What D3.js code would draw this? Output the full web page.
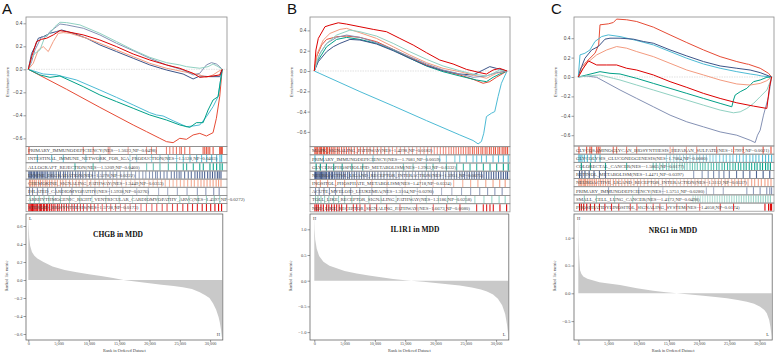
<!DOCTYPE html>
<html>
<head>
<meta charset="utf-8">
<script src="https://cdn.jsdelivr.net/npm/d3@7"></script>
<style>
body{margin:0;background:#fff}
svg{display:block}
</style>
</head>
<body>
<svg id="fig" width="777" height="354"></svg>
<script>
// ranks are in thousands of genes (0 .. 32)
const rankTicks = [0, 5, 10, 15, 20, 25, 30];
const esTicks = [-0.6, -0.4, -0.2, 0, 0.2, 0.4];
const npg = ["#E64B35", "#4DBBD5", "#00A087", "#3C5488", "#F39B7F", "#8491B4", "#91D1C2", "#DC0000"];

// ---------- panel A : CHGB ----------
const aSets = [
  "PRIMARY_IMMUNODEFICIENCY(NES=-1.5023,NP=0.0498)",
  "INTESTINAL_IMMUNE_NETWORK_FOR_IGA_PRODUCTION(NES=-1.5128,NP=0.0403)",
  "ALLOGRAFT_REJECTION(NES=-1.5209,NP=0.0460)",
  "LYSINE_DEGRADATION(NES=1.5278,NP=0.0222)",
  "CHEMOKINE_SIGNALING_PATHWAY(NES=1.3449,NP=0.0353)",
  "DILATED_CARDIOMYOPATHY(NES=1.5938,NP=0.0276)",
  "ARRHYTHMOGENIC_RIGHT_VENTRICULAR_CARDIOMYOPATHY_ARVC(NES=1.4597,NP=0.0272)",
  "STEROID_BIOSYNTHESIS(NES=1.5728,NP=0.0173)"
];
const aCurves = [
  [[0,0],[6.32,-0.174],[11.81,-0.331],[17.31,-0.484],[19.51,-0.542],[21.7,-0.6],[22.8,-0.629],[23.9,-0.638],[25,-0.6],[26.1,-0.609],[27.2,-0.571],[28.3,-0.557],[29.4,-0.58],[30.49,-0.551],[31.04,-0.426],[31.59,-0.238],[32,0]],
  [[0,0],[2.47,-0.041],[4.67,-0.049],[7.97,-0.093],[11.81,-0.18],[14.56,-0.244],[17.31,-0.31],[20.05,-0.377],[21.15,-0.397],[22.25,-0.406],[23.9,-0.447],[26.1,-0.499],[27.2,-0.493],[28.3,-0.484],[29.4,-0.412],[30.49,-0.325],[31.32,-0.238],[32,0]],
  [[0,0],[1.92,-0.049],[3.57,-0.07],[5.22,-0.058],[9.07,-0.151],[11.81,-0.223],[14.56,-0.281],[17.31,-0.339],[20.05,-0.397],[22.8,-0.441],[25,-0.484],[26.65,-0.505],[27.75,-0.464],[28.85,-0.464],[29.67,-0.354],[30.49,-0.267],[31.32,-0.238],[32,0]],
  [[0,0],[0.55,0.139],[1.1,0.197],[1.65,0.27],[2.47,0.284],[3.57,0.313],[4.67,0.328],[5.49,0.342],[7.42,0.313],[9.62,0.27],[11.81,0.212],[14.56,0.154],[17.31,0.096],[20.05,0.038],[22.8,-0.006],[25.55,-0.041],[27.2,-0.084],[28.3,-0.058],[29.95,-0.064],[31.59,-0.064],[32,0]],
  [[0,0],[0.82,0.052],[1.65,0.168],[2.47,0.197],[3.3,0.154],[4.12,0.241],[4.95,0.313],[5.77,0.319],[6.87,0.313],[9.62,0.27],[11.81,0.226],[14.56,0.168],[17.31,0.11],[20.05,0.052],[22.8,0.009],[25.55,-0.02],[28.3,-0.049],[29.4,-0.07],[30.49,-0.049],[31.32,-0.02],[32,0]],
  [[0,0],[0.55,0.067],[1.1,0.168],[2.2,0.284],[3.02,0.284],[3.57,0.328],[4.67,0.371],[5.22,0.394],[6.32,0.386],[9.07,0.357],[11.81,0.299],[14.56,0.226],[17.31,0.162],[20.05,0.096],[22.8,0.038],[25.55,-0.006],[27.2,-0.049],[28.3,-0.035],[29.4,0.038],[30.22,0.058],[31.04,0.046],[31.59,0.023],[32,0]],
  [[0,0],[0.55,0.096],[1.1,0.139],[1.92,0.168],[2.75,0.284],[3.57,0.313],[4.4,0.371],[5.22,0.409],[6.32,0.406],[8.52,0.386],[11.81,0.313],[14.56,0.241],[17.31,0.168],[20.05,0.104],[22.8,0.058],[25,0.038],[26.1,0.023],[28.3,0.009],[29.67,0.023],[30.49,0.046],[31.32,0.023],[32,0]],
  [[0,0],[0.55,0.11],[1.37,0.241],[2.2,0.261],[3.02,0.27],[4.12,0.299],[5.22,0.336],[6.32,0.328],[9.07,0.299],[11.81,0.255],[14.56,0.197],[17.31,0.133],[20.05,0.081],[22.8,0.038],[25,0.009],[27.2,-0.035],[28.3,-0.07],[29.4,-0.064],[30.49,-0.058],[31.59,-0.049],[32,0]]
];
const aHits = [
  [0.11,9.07,10.71,13.19,13.46,16.48,19.51,20.33,21.15,22.8,23.35,23.9,24.45,25,25.27,25.82,26.65,28.85,29.12,29.4,29.67,29.95,30.5,31.59,31.76,31.92,32],
  [1.5,3.86,5.78,9.5,11.83,16.78,17.88,20.35,21.73,23.11,24.48,25.58,26.68,27.78,28.6,29.43,30.26,31.08,31.63,31.91],
  [7.7,10.7,16.78,19.53,20.63,21.73,23.11,24.48,25.58,26.13,27.23,28.3,28.88,29.98,30.53,31.08,31.63,32],
  [0.1,0.3,0.5,0.8,1,1.3,1.5,1.8,2.1,2.3,2.6,2.9,3.2,3.6,3.9,4.2,4.6,5,5.3,5.8,6.1,6.5,6.9,7.3,7.8,8.2,8.6,9,9.5,10.1,10.6,11,11.6,12.2,12.8,13.5,14,14.6,15.2,15.8,16.4,17,17.7,18.3,18.9,19.4,20,20.5,21,21.3,21.8,22.4,22.9,23.6,24.1,24.5,24.9,25.2,25.8,26.4,26.9,27.5,27.9,28.3,28.7,29.1,29.6,30,30.4,30.8,31.2,31.5,31.8],
  [0.2,0.4,0.7,1,1.3,1.7,2,2.4,2.8,3.1,3.5,3.9,4.4,4.8,5.3,5.7,6.2,6.8,7.3,7.9,8.4,9,9.7,10.3,11,11.7,12.4,13.1,13.9,14.6,15.4,16.1,16.9,17.6,18.4,19.1,19.9,20.6,21.3,22,22.6,23.3,23.9,24.5,25.1,25.7,26.3,26.9,27.4,28,28.5,29,29.5,30,30.5,31,31.4,31.8],
  [0.2,0.7,1.5,2.4,3.2,4.5,5.5,7.2,8.9,11,13.4,15.6,17.9,19.8,21.5,23,24.6,26.2,27.9,29.3,30.6,31.5],
  [0.3,1,1.8,2.6,3.4,4.1,5.3,6.8,8.5,10.5,12.8,15,17.2,19.6,21.4,23.2,25,26.5,28,29.4,30.7,31.6],
  [0.1,0.3,0.5,0.7,0.9,1.1,1.3,1.5,1.8,2,2.2,2.5,2.7,3,3.2,3.5,3.8,4.1,4.4,4.8,5.1,5.5,5.9,6.3,6.7,7.2,7.6,8.1,8.6,9.1,9.7,10.3,10.9,11.5,12.2,12.9,13.6,14.4,15.2,16,16.8,17.7,18.6,19.5,20.4,21.2,22.1,22.9,23.8,24.6,25.5,26.3,27.1,27.9,28.7,29.4,30.1,30.8,31.4,31.9]
];
const aMetric = [[0,0.73],[0.05,0.6],[0.15,0.47],[0.3,0.38],[0.6,0.31],[1,0.27],[1.5,0.24],[2.5,0.2],[4,0.15],[6,0.11],[8,0.085],[10,0.065],[12,0.045],[14,0.022],[15.7,0],[18,-0.02],[20,-0.036],[22,-0.052],[24,-0.068],[25.5,-0.08],[27,-0.1],[28.3,-0.135],[29.2,-0.17],[29.9,-0.2],[30.5,-0.26],[31,-0.33],[31.4,-0.41],[31.6,-0.47],[31.8,-0.55],[31.95,-0.64],[32,-0.64]];
const aMetricTicks = [-0.6, -0.4, -0.2, 0, 0.2, 0.4, 0.6];

// ---------- panel B : IL1R1 ----------
const bSets = [
  "MAPK_SIGNALING_PATHWAY(NES=1.4298,NP=0.0182)",
  "PRIMARY_IMMUNODEFICIENCY(NES=-1.7081,NP=0.0059)",
  "GLYCEROPHOSPHOLIPID_METABOLISM(NES=1.2963,NP=0.0332)",
  "NEUROACTIVE_LIGAND_RECEPTOR_INTERACTION(NES=1.3951,NP=0.0075)",
  "INOSITOL_PHOSPHATE_METABOLISM(NES=1.4718,NP=0.0324)",
  "ACUTE_MYELOID_LEUKEMIA(NES=1.3104,NP=0.0290)",
  "TOLL_LIKE_RECEPTOR_SIGNALING_PATHWAY(NES=1.3186,NP=0.0258)",
  "NOD_LIKE_RECEPTOR_SIGNALING_PATHWAY(NES=1.6673,NP=0.0080)"
];
const bCurves = [
  [[0,0],[0.38,0.141],[1.21,0.256],[2.03,0.311],[3.68,0.338],[5.33,0.344],[7.53,0.331],[10.27,0.289],[13.02,0.213],[15.77,0.134],[18.52,0.059],[21.26,0.003],[24.01,-0.039],[26.21,-0.082],[27.86,-0.121],[28.96,-0.105],[30.05,-0.062],[31.81,0]],
  [[0,0],[7.53,-0.203],[13.02,-0.344],[18.52,-0.489],[24.01,-0.63],[26.21,-0.685],[27.03,-0.718],[27.58,-0.695],[27.97,-0.613],[28.41,-0.449],[29.23,-0.416],[29.78,-0.4],[30.33,-0.252],[30.88,-0.121],[31.43,-0.049],[31.81,0]],
  [[0,0],[0.66,0.108],[2.03,0.239],[3.68,0.311],[5.33,0.331],[7.53,0.311],[10.27,0.272],[13.02,0.207],[15.77,0.125],[18.52,0.049],[21.26,-0.007],[24.01,-0.049],[26.76,-0.089],[28.41,-0.105],[29.51,-0.062],[30.6,-0.03],[31.81,0]],
  [[0,0],[0.66,0.092],[2.03,0.19],[3.13,0.239],[4.23,0.272],[5.88,0.311],[7.53,0.305],[10.27,0.266],[13.02,0.2],[15.77,0.125],[18.52,0.052],[21.26,0.003],[24.01,-0.03],[26.21,-0.039],[27.86,0.01],[28.96,0.043],[30.05,0.026],[31.81,0]],
  [[0,0],[0.49,0.174],[1.48,0.305],[2.58,0.37],[4.23,0.41],[5.33,0.42],[7.53,0.377],[10.27,0.321],[13.02,0.239],[15.77,0.157],[18.52,0.082],[21.26,0.026],[24.01,-0.007],[26.21,-0.039],[28.41,-0.072],[30.05,-0.023],[31.81,0]],
  [[0,0],[0.93,0.174],[2.03,0.272],[3.68,0.331],[5.33,0.354],[7.53,0.331],[10.27,0.279],[13.02,0.213],[15.77,0.141],[18.52,0.069],[21.26,0.01],[24.01,-0.03],[26.21,-0.062],[28.41,-0.049],[30.05,-0.016],[31.81,0]],
  [[0,0],[0.66,0.141],[2.03,0.272],[3.68,0.354],[5.88,0.403],[7.53,0.387],[10.27,0.344],[13.02,0.272],[15.77,0.19],[18.52,0.115],[21.26,0.049],[24.01,0.003],[26.21,-0.03],[28.41,-0.049],[29.51,-0.023],[30.6,0.01],[31.81,0]],
  [[0,0],[0.27,0.207],[0.66,0.321],[1.76,0.436],[2.58,0.452],[3.96,0.475],[5.33,0.462],[7.53,0.436],[9.73,0.41],[11.92,0.387],[14.12,0.321],[16.32,0.256],[18.52,0.18],[20.71,0.108],[22.91,0.069],[25.11,0.016],[27.31,-0.016],[28.41,-0.03],[29.51,0.01],[30.6,0.026],[31.81,0]]
];
const bHits = [
  [0.1,0.3,0.5,0.8,1,1.2,1.5,1.7,2,2.2,2.5,2.8,3.1,3.4,3.8,4.1,4.5,4.9,5.3,5.7,6.1,6.6,7.1,7.6,8.1,8.7,9.2,9.8,10.4,11,11.6,12.3,12.9,13.6,14.2,14.9,15.6,16.2,16.9,17.5,18.1,18.7,19.3,19.8,20.3,20.8,21.3,21.7,22.2,22.6,23,23.4,23.8,24.2,24.6,25,25.4,25.7,26.1,26.4,26.8,27.1,27.5,27.8,28.2,28.5,28.9,29.2,29.6,29.9,30.3,30.6,31,31.3,31.6,31.9],
  [0.11,1.5,9.7,18.5,20.7,21.8,23.2,24,25.1,26.2,26.8,27.6,28.4,29.5,30.4,31.2,32],
  [0.3,1,2,3.2,4.6,6.2,8,14.7,16.3,18.5,19.6,21.8,23.5,24.6,25.7,26.8,27.9,29,30.1,31.2,32],
  [0.1,0.2,0.4,0.6,0.8,1,1.2,1.4,1.6,1.8,2,2.3,2.5,2.8,3,3.3,3.6,3.9,4.2,4.5,4.8,5.1,5.5,5.8,6.2,6.6,7,7.4,7.8,8.2,8.7,9.1,9.6,10,10.5,11,11.5,12,12.5,13,13.5,14,14.6,15.1,15.6,16.2,16.7,17.2,17.8,18.3,18.8,19.3,19.8,20.3,20.8,21.3,21.7,22.2,22.6,23.1,23.5,24,24.4,24.8,25.2,25.6,26,26.4,26.8,27.2,27.6,28,28.4,28.8,29.2,29.6,30,30.4,30.8,31.2,31.6,31.9],
  [0.3,1,2.2,3.5,5,7,9.5,12,15,17.5,19.6,21.5,23,24.5,25.8,27,28.3,29.5,30.6,31.5],
  [0.2,0.8,1.6,2.5,3.5,4.6,6,7.5,9.5,12,14.5,17,19.5,21,22.7,24.3,25.8,27.3,28.6,29.8,31],
  [0.2,0.6,1.1,1.7,2.4,3.2,4,5,6.2,7.5,9,11,13.5,16,18.5,20.5,22,23.5,25,26.5,28,29.3,30.5,31.5],
  [0.11,0.4,0.66,1.1,1.49,2.04,2.4,2.86,3.3,3.69,4.1,4.51,5.34,6.44,6.99,7.54,8.36,9.19,10.29,11.94,14.14,16.89,19.64,21.84,24.04,26.79,27.89,28.44,28.99,29.54,30.64,31.74]
];
const bMetric = [[0,1.28],[0.05,1],[0.15,0.8],[0.4,0.62],[0.8,0.48],[1.5,0.37],[2.5,0.29],[3.7,0.24],[5,0.19],[7,0.14],[9,0.1],[11,0.065],[13,0.035],[15,0.01],[16,0],[18,-0.02],[20,-0.045],[22,-0.07],[24,-0.095],[26,-0.13],[27.5,-0.17],[28.5,-0.21],[29.5,-0.27],[30.3,-0.35],[31,-0.48],[31.5,-0.65],[31.8,-0.85],[32,-1.05]];
const bMetricTicks = [-1, -0.5, 0, 0.5, 1];

// ---------- panel C : NRG1 ----------
const cSets = [
  "GLYCOSAMINOGLYCAN_BIOSYNTHESIS_HEPARAN_SULFATE(NES=1.7997,NP=0.0021)",
  "GLYCOLYSIS_GLUCONEOGENESIS(NES=1.7084,NP=0.0080)",
  "COLORECTAL_CANCER(NES=-1.5865,NP=0.0177)",
  "RETINOL_METABOLISM(NES=1.4471,NP=0.0397)",
  "NEUROACTIVE_LIGAND_RECEPTOR_INTERACTION(NES=1.3112,NP=0.0537)",
  "PRIMARY_IMMUNODEFICIENCY(NES=-1.5751,NP=0.0280)",
  "SMALL_CELL_LUNG_CANCER(NES=-1.4173,NP=0.0498)",
  "PHOSPHATIDYLINOSITOL_SIGNALING_SYSTEM(NES=-1.4058,NP=0.0174)"
];
const cCurves = [
  [[0,0],[0.39,0.09],[1.38,0.159],[2.76,0.245],[3.37,0.331],[3.59,0.538],[4.97,0.548],[5.8,0.562],[6.35,0.597],[8.01,0.59],[9.67,0.572],[12.43,0.514],[15.19,0.434],[17.96,0.355],[20.72,0.279],[23.48,0.21],[26.24,0.159],[27.9,0.134],[28.18,0.131],[30.11,0.09],[31.49,0.038],[32,0]],
  [[0,0],[0.28,0.228],[1.1,0.245],[1.93,0.279],[2.76,0.366],[3.87,0.417],[4.97,0.434],[6.91,0.417],[9.67,0.376],[12.43,0.331],[15.19,0.262],[17.96,0.193],[20.72,0.134],[23.48,0.09],[26.24,0.055],[28.45,0.031],[29.56,0.021],[30.39,0.01],[32,0]],
  [[0,0],[1.38,0.021],[3.59,0.055],[5.25,0.038],[6.91,0.031],[9.67,-0.014],[12.43,-0.066],[15.19,-0.117],[17.96,-0.169],[20.72,-0.221],[23.48,-0.272],[25.41,-0.307],[25.69,-0.238],[25.97,-0.186],[26.8,-0.152],[27.9,-0.117],[29.01,-0.048],[30.11,-0.031],[31.22,-0.003],[32,0]],
  [[0,0],[0.55,0.107],[1.1,0.193],[2.21,0.279],[3.31,0.314],[4.42,0.39],[5.25,0.4],[6.91,0.4],[9.12,0.39],[10.77,0.366],[12.43,0.348],[15.19,0.279],[17.96,0.217],[20.72,0.159],[23.48,0.114],[26.24,0.09],[28.45,0.072],[30.11,0.045],[32,0]],
  [[0,0],[0.55,0.072],[1.38,0.141],[3.04,0.228],[4.7,0.279],[6.35,0.314],[8.01,0.297],[9.67,0.262],[12.43,0.21],[15.19,0.141],[17.96,0.072],[20.72,0.021],[23.48,-0.031],[26.24,-0.072],[28.45,-0.083],[30.11,-0.066],[31.21,-0.038],[32,0]],
  [[0,0],[1.38,0.01],[3.04,-0.003],[6.91,-0.134],[9.67,-0.221],[12.43,-0.307],[15.19,-0.393],[17.96,-0.462],[20.72,-0.514],[23.48,-0.566],[26.24,-0.6],[28.45,-0.652],[29.28,-0.676],[29.67,-0.6],[30.11,-0.548],[30.66,-0.393],[31.49,-0.203],[32,0]],
  [[0,0],[1.38,0.01],[3.59,0.021],[5.8,-0.014],[6.91,-0.031],[9.67,-0.083],[12.43,-0.134],[15.19,-0.186],[17.96,-0.238],[20.72,-0.29],[23.48,-0.341],[25.69,-0.369],[26.8,-0.359],[27.9,-0.324],[29.01,-0.272],[30.11,-0.203],[31.22,-0.134],[31.77,-0.048],[32,0]],
  [[0,0],[0.83,0.09],[1.66,0.166],[3.04,0.124],[4.7,0.124],[6.35,0.124],[8.01,0.09],[9.67,0.072],[12.43,0.021],[15.19,-0.048],[17.96,-0.107],[20.72,-0.169],[23.48,-0.221],[26.24,-0.266],[29.01,-0.3],[31.21,-0.324],[31.66,-0.1],[32,0]]
];
const cHits = [
  [0.11,1.38,1.93,2.21,3.04,3.31,3.59,5.79,6.35,8,9.66,15.2,15.7,17.9,19.6,22.9,25.7,27.3,30.6,31.9],
  [0.1,0.3,0.6,1,1.5,2.1,2.8,3.6,14.6,15.2,15.8,16.3,16.8,17.4,17.9,18.5,19,19.6,20.1,20.7,21.2,21.8,22.3,22.8,23.4,24,24.5,25.1,25.6,26.2,26.7,27.3,27.8,28.4,28.9,29.4,29.9,30.5,31,31.5,32],
  [0.5,2,4.5,8,12.4,12.9,13.5,14,14.6,15,15.5,15.9,16.3,16.8,17.2,17.6,18,18.5,18.9,19.3,19.7,20.2,20.6,21,21.5,22,22.4,22.9,23.3,23.8,24.2,24.7,25.1,25.6,26,26.5,26.9,27.4,27.8,28.3,28.7,29.2,29.6,30.1,30.5,31,31.4,31.8],
  [0.2,0.6,1.1,1.8,2.6,3.5,4.5,19.1,20.5,21.5,22.4,23.3,24.1,25,26.2,27.3,28.4,29.5,30.6,31.7],
  [0.1,0.3,0.5,0.8,1,1.2,1.5,1.8,2.1,2.4,2.7,3,3.4,3.7,4.1,4.5,4.9,5.3,5.8,6.2,6.7,7.2,7.7,8.2,8.7,9.2,9.8,10.3,10.9,11.5,12.1,12.7,13.3,13.9,14.5,15.1,15.7,16.3,16.9,17.5,18.1,18.7,19.3,19.8,20.4,21,21.5,22.1,22.6,23.2,23.7,24.3,24.8,25.4,25.9,26.5,27,27.6,28.1,28.7,29.2,29.8,30.3,30.9,31.4,31.9],
  [5,10,14,21.2,22.4,24,27.9,29,30.1,31.2,31.7,32],
  [1,3,6,9,12,15,19,19.4,19.8,20.2,20.6,21,21.4,21.8,22.2,22.6,23,23.4,23.8,24.2,24.6,25,25.4,25.8,26.2,26.6,27,27.4,27.8,28.2,28.6,29,29.4,29.8,30.2,30.6,31,31.4,31.8],
  [0.2,0.5,0.9,1.4,2,2.7,3.5,4.4,5.5,6.7,8.6,9.7,11.3,12.4,13.5,14.6,16.3,17.9,20.1,23.5,25.7,30.9,31.5,31.8,32]
];
const cMetric = [[0,1.42],[0.05,1],[0.12,0.7],[0.28,0.42],[0.5,0.35],[0.83,0.3],[1.5,0.26],[2.5,0.23],[3.5,0.2],[4.7,0.18],[6.9,0.15],[9.7,0.09],[12.4,0.048],[14.5,0.02],[16.3,0],[18.5,-0.02],[20.7,-0.042],[22.7,-0.065],[24.6,-0.09],[26.4,-0.12],[27.9,-0.15],[29.1,-0.19],[30.1,-0.24],[30.8,-0.3],[31.2,-0.36],[31.6,-0.48],[31.8,-0.6],[32,-0.78]];
const cMetricTicks = [-0.5, 0, 0.5, 1];

// layout of the three panels
const panels = [
  {letter: "A", lx: 2, left: 26, right: 227, x0: 28.3, x32: 222.2, esRange: [138.3, 23.3], bandTop: 146.5,
   mDomain: [-0.6, 0.6], mRange: [334, 226], mTicks: aMetricTicks, title: "CHGB in MDD", tx: 118, ty: 237,
   hiTxt: "L", loTxt: "H", sets: aSets, curves: aCurves, hits: aHits, metric: aMetric},
  {letter: "B", lx: 287, left: 310, right: 510, x0: 314.3, x32: 508.2, esRange: [131.9, 30.4], bandTop: 146.7,
   mDomain: [-0.5, 1], mRange: [306.4, 229.3], mTicks: bMetricTicks, title: "IL1R1 in MDD", tx: 415, ty: 232,
   hiTxt: "H", loTxt: "L", sets: bSets, curves: bCurves, hits: bHits, metric: bMetric},
  {letter: "C", lx: 551, left: 574, right: 774, x0: 578.3, x32: 771.6, esRange: [135.2, 38.2], bandTop: 146,
   mDomain: [-0.5, 1], mRange: [321.1, 237.7], mTicks: cMetricTicks, title: "NRG1 in MDD", tx: 673, ty: 233,
   hiTxt: "H", loTxt: "L", sets: cSets, curves: cCurves, hits: cHits, metric: cMetric}
];

const svg = d3.select("#fig");
const serif = "Liberation Serif, Times New Roman, serif";
const sans = "Liberation Sans, Arial, sans-serif";
const frameCol = "#8a8a8a";
const bandH = 8.15;
const botTop = 214, botBot = 340;

panels.forEach(function(p) {
  const g = svg.append("g");
  const x = d3.scaleLinear().domain([0, 32]).range([p.x0, p.x32]);
  const y = d3.scaleLinear().domain([-0.6, 0.4]).range(p.esRange);

  g.append("text").attr("x", p.lx).attr("y", 14)
    .attr("font-family", sans).attr("font-size", 15).attr("fill", "#111").text(p.letter);

  // enrichment score plot
  g.append("line")
    .attr("x1", p.left).attr("x2", p.right).attr("y1", y(0)).attr("y2", y(0))
    .attr("stroke", "#cfcfcf").attr("stroke-width", 0.6).attr("stroke-dasharray", "1.5,1");

  const ya = g.append("g").attr("transform", "translate(" + p.left + ",0)")
    .call(d3.axisLeft(y).tickValues(esTicks).tickSize(2.5).tickFormat(d3.format(".1f")));
  ya.select(".domain").remove();
  ya.selectAll("line").attr("stroke", "#555").attr("stroke-width", 0.6);
  ya.selectAll("text").attr("font-family", sans).attr("font-size", 4.8).attr("fill", "#444").attr("x", -3.5);

  g.append("text")
    .attr("transform", "translate(" + (p.left - 17) + "," + 82 + ")rotate(-90)")
    .attr("text-anchor", "middle").attr("font-family", sans).attr("font-size", 3.8).attr("fill", "#444")
    .text("Enrichment score");

  const line = d3.line().x(function(d) { return x(d[0]); }).y(function(d) { return y(d[1]); });
  p.curves.forEach(function(c, i) {
    g.append("path").attr("d", line(c)).attr("fill", "none")
      .attr("stroke", npg[i]).attr("stroke-width", 1).attr("stroke-linejoin", "round");
  });

  g.append("rect").attr("x", p.left).attr("y", 17).attr("width", p.right - p.left).attr("height", p.bandTop - 17)
    .attr("fill", "none").attr("stroke", frameCol).attr("stroke-width", 0.8);

  // hit bands
  p.sets.forEach(function(name, i) {
    const by = p.bandTop + i * bandH;
    const bg = g.append("g");
    bg.selectAll("line").data(p.hits[i]).enter().append("line")
      .attr("x1", function(d) { return x(d); }).attr("x2", function(d) { return x(d); })
      .attr("y1", by + 0.4).attr("y2", by + bandH - 0.4)
      .attr("stroke", npg[i]).attr("stroke-width", 1.1)
      .attr("stroke-opacity", function(d) { return 0.45 + 0.55 * Math.abs(d - 16) / 16; });
    bg.append("text").attr("x", p.left + 2).attr("y", by + bandH / 2 + 1.7)
      .attr("font-family", serif).attr("font-size", 4.9).attr("fill", "#444").text(name);
    bg.append("rect").attr("x", p.left).attr("y", by).attr("width", p.right - p.left).attr("height", bandH)
      .attr("fill", "none").attr("stroke", frameCol).attr("stroke-width", 0.7);
  });

  // ranked list metric
  const my = d3.scaleLinear().domain(p.mDomain).range(p.mRange);
  const botRight = p.x32 + 0.6;
  const area = d3.area().x(function(d) { return x(d[0]); }).y0(my(0)).y1(function(d) { return my(d[1]); });
  g.append("path").attr("d", area(p.metric)).attr("fill", "#c9c9c9").attr("stroke", "none");

  g.append("rect").attr("x", p.left).attr("y", botTop).attr("width", botRight - p.left).attr("height", botBot - botTop)
    .attr("fill", "none").attr("stroke", "#666").attr("stroke-width", 0.8);

  const mya = g.append("g").attr("transform", "translate(" + p.left + ",0)")
    .call(d3.axisLeft(my).tickValues(p.mTicks).tickSize(2.5).tickFormat(d3.format(".1f")));
  mya.select(".domain").remove();
  mya.selectAll("line").attr("stroke", "#555").attr("stroke-width", 0.6);
  mya.selectAll("text").attr("font-family", serif).attr("font-size", 4.5).attr("fill", "#444").attr("x", -3.5);

  g.append("text")
    .attr("transform", "translate(" + (p.left - 18) + "," + 276 + ")rotate(-90)")
    .attr("text-anchor", "middle").attr("font-family", serif).attr("font-size", 4.2).attr("fill", "#444")
    .text("Ranked list metric");

  const xa = g.append("g").attr("transform", "translate(0," + botBot + ")")
    .call(d3.axisBottom(x).tickValues(rankTicks).tickSize(2)
      .tickFormat(function(d) { return d3.format(",")(d * 1000); }));
  xa.select(".domain").remove();
  xa.selectAll("line").attr("stroke", "#555").attr("stroke-width", 0.6);
  xa.selectAll("text").attr("font-family", serif).attr("font-size", 4.2).attr("fill", "#444").attr("dy", "0.5em").attr("y", 3);

  g.append("text").attr("x", (p.left + botRight) / 2).attr("y", 352)
    .attr("text-anchor", "middle").attr("font-family", serif).attr("font-size", 4.3).attr("fill", "#444")
    .text("Rank in Ordered Dataset");

  g.append("text").attr("x", p.left + 3).attr("y", 220)
    .attr("font-family", serif).attr("font-size", 4.5).attr("fill", "#444").text(p.hiTxt);
  g.append("text").attr("x", botRight - 6).attr("y", 336)
    .attr("font-family", serif).attr("font-size", 4.5).attr("fill", "#444").text(p.loTxt);

  g.append("text").attr("x", p.tx).attr("y", p.ty).attr("text-anchor", "middle")
    .attr("font-family", serif).attr("font-weight", "bold").attr("font-size", 7.5).attr("fill", "#111")
    .text(p.title);
});
</script>
</body>
</html>
